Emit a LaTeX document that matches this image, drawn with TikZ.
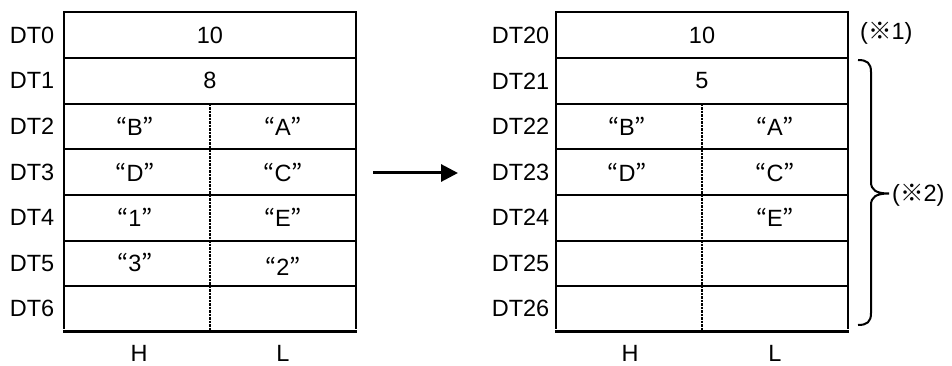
\documentclass[tikz,border=0pt]{standalone}
\usepackage{fontspec}
\setmainfont{Liberation Sans}
\newfontfamily\cjk{Noto Sans CJK JP}
\newcommand\quotedtxt[1]{{\cjk “}#1{\cjk ”}}
\usetikzlibrary{arrows.meta}
\begin{document}
\begin{tikzpicture}[x=1pt,y=-1pt,
  font=\fontsize{23.5}{26}\selectfont,
  gridline/.style={line width=2pt},
  botline/.style={line width=3pt},
  divline/.style={line width=1.4pt, dash pattern=on 2.5pt off 1pt},
  cell/.style={inner sep=0pt, anchor=center},
  lab/.style={inner sep=0pt, anchor=east},
  note/.style={inner sep=0pt, anchor=west}]
\useasboundingbox (0,0) rectangle (952,366);

% ---------- left table ----------
\def\xl{64}\def\xr{356}\def\xm{210}
\foreach \i in {0,...,6} {
  \draw[gridline] (\xl,12.5+\i*45.6) -- (\xr,12.5+\i*45.6);
}
\draw[gridline] (\xl,11.5) -- (\xl,329);
\draw[gridline] (\xr,11.5) -- (\xr,329);
\draw[botline] (\xl-1,331.7) -- (\xr+1,331.7);
\draw[divline] (\xm,103.7) -- (\xm,330);
\foreach \t [count=\i from 0] in {DT0,DT1,DT2,DT3,DT4,DT5,DT6} {
  \node[lab] (l\t) at (54.5,35.3+\i*45.6) {\t};
}
\node[cell] (lv0) at (\xm,35.3) {10};
\node[cell] (lv1) at (\xm,80.9) {8};
\node[cell] (l2h) at (135,126.5) {\quotedtxt{B}};
\node[cell] (l2l) at (283,126.5) {\quotedtxt{A}};
\node[cell] (l3h) at (135,172.1) {\quotedtxt{D}};
\node[cell] (l3l) at (283,172.1) {\quotedtxt{C}};
\node[cell] (l4h) at (135,217.7) {\quotedtxt{1}};
\node[cell] (l4l) at (283,217.7) {\quotedtxt{E}};
\node[cell] (l5h) at (135,262.3) {\quotedtxt{3}};
\node[cell] (l5l) at (283,266.3) {\quotedtxt{2}};
\node[cell] (lH) at (139,353.5) {H};
\node[cell] (lL) at (283,353.5) {L};

% ---------- arrow ----------
\coordinate (as) at (373,173);
\coordinate (ae) at (458,173);
\draw[line width=3pt, -{Triangle[length=17pt,width=17pt]}] (as) -- (ae);

% ---------- right table ----------
\def\rl{556}\def\rr{848}\def\rmid{702}
\foreach \i in {0,...,6} {
  \draw[gridline] (\rl,12.5+\i*45.6) -- (\rr,12.5+\i*45.6);
}
\draw[gridline] (\rl,11.5) -- (\rl,329);
\draw[gridline] (\rr,11.5) -- (\rr,329);
\draw[botline] (\rl-1,331.7) -- (\rr+1,331.7);
\draw[divline] (\rmid,103.7) -- (\rmid,330);
\foreach \t [count=\i from 0] in {DT20,DT21,DT22,DT23,DT24,DT25,DT26} {
  \node[lab] (r\t) at (549.5,35.3+\i*45.6) {\t};
}
\node[cell] (rv0) at (\rmid,35.3) {10};
\node[cell] (rv1) at (\rmid,80.9) {5};
\node[cell] (r2h) at (627,126.5) {\quotedtxt{B}};
\node[cell] (r2l) at (775,126.5) {\quotedtxt{A}};
\node[cell] (r3h) at (627,172.1) {\quotedtxt{D}};
\node[cell] (r3l) at (775,172.1) {\quotedtxt{C}};
\node[cell] (r4l) at (775,217.7) {\quotedtxt{E}};
\node[cell] (rH) at (630,353.5) {H};
\node[cell] (rL) at (775,353.5) {L};

% ---------- notes ----------
\node[note] (n1) at (860,33) {({\cjk ※}1)};
\draw[line width=2pt]
  (858,60) .. controls (867,60) and (871,63) .. (871,72)
  -- (871,182) .. controls (871,190) and (876,193.5) .. (889,193.5)
  .. controls (876,193.5) and (871,197) .. (871,205)
  -- (871,313) .. controls (871,322) and (867,325) .. (858,325);
\node[note] (n2) at (892,195) {({\cjk ※}2)};
\end{tikzpicture}
\end{document}
